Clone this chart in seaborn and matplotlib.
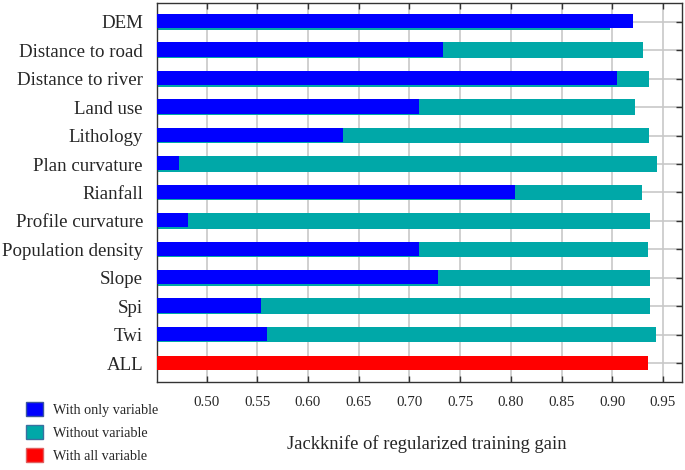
import matplotlib.pyplot as plt
import pandas as pd
import seaborn as sns
from matplotlib.patches import Patch

sns.set_style('white')
plt.rcParams['font.family'] = ['Liberation Serif', 'DejaVu Serif']

# ── Data ─────────────────────────────────────────────────────────────────────
variables = ['DEM', 'Distance to road', 'Distance to river', 'Land use',
             'Lithology', 'Plan curvature', 'Rianfall', 'Profile curvature',
             'Population density', 'Slope', 'Spi', 'Twi', 'ALL']
with_only = [0.920, 0.733, 0.905, 0.709, 0.635, 0.473, 0.804, 0.482,
             0.709, 0.728, 0.554, 0.560, None]
without = [0.898, 0.930, 0.936, 0.922, 0.936, 0.944, 0.929, 0.937,
           0.935, 0.937, 0.937, 0.943, None]
with_all = [None] * 12 + [0.935]
xticks = [0.50, 0.55, 0.60, 0.65, 0.70, 0.75, 0.80, 0.85, 0.90, 0.95]

df = pd.DataFrame({'variable': variables, 'only': with_only,
                   'without': without, 'all': with_all})

BLUE = '#0000ff'
TEAL = '#00a8a8'
RED = '#ff0000'

fig = plt.figure(figsize=(6.85, 4.70), dpi=100)
ax = fig.add_axes([0.229, 0.187, 0.767, 0.807])

sns.barplot(data=df, x='without', y='variable', order=variables, color=TEAL,
            width=0.55, saturation=1, linewidth=0, ax=ax, zorder=2)
n_teal = len(ax.patches)
sns.barplot(data=df, x='only', y='variable', order=variables, color=BLUE,
            width=0.50, saturation=1, linewidth=0, ax=ax, zorder=3)
# blue bars sit flush with the top of the teal ones, leaving a thin teal strip below
for p in ax.patches[n_teal:]:
    p.set_y(p.get_y() - 0.025)
sns.barplot(data=df, x='all', y='variable', order=variables, color=RED,
            width=0.52, saturation=1, linewidth=0, ax=ax, zorder=3)

ax.set_xlim(0.451, 0.969)
ax.set_ylim(len(variables) - 0.33, -0.67)
ax.set_xticks(xticks)
ax.set_xticklabels([f'{t:.2f}' for t in xticks], fontsize=10.8)
ax.tick_params(axis='x', direction='in', top=True, bottom=True,
               length=4, width=1, pad=10, color='#333333')
ax.tick_params(axis='y', direction='in', left=False, right=True,
               length=4, width=1, pad=10, labelsize=13.6, color='#333333')
for s in ax.spines.values():
    s.set_color('#333333')
    s.set_linewidth(1.0)

ax.xaxis.grid(True, color='#c8c8c8', linewidth=1.2, zorder=0)
ax.yaxis.grid(True, color='#c8c8c8', linewidth=1.2, zorder=0)
ax.set_axisbelow(True)

ax.set_ylabel('')
ax.set_xlabel('Jackknife of regularized training gain', fontsize=13.4)
ax.xaxis.set_label_coords(0.514, -0.139)

handles = [Patch(facecolor=BLUE, edgecolor='#3a55a0', label='With only variable'),
           Patch(facecolor=TEAL, edgecolor='#3a70a0', label='Without variable'),
           Patch(facecolor=RED, edgecolor='#e06060', label='With all variable')]
fig.legend(handles=handles, loc='lower left', bbox_to_anchor=(0.02, -0.012),
           frameon=False, fontsize=10.2, handlelength=1.15, handleheight=1.1,
           handletextpad=0.75, labelspacing=0.6)

fig.savefig('out.png', dpi=100)
